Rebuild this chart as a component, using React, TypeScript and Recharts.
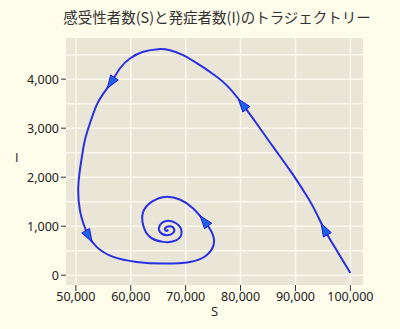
import React from 'react';
import { LineChart, Line, XAxis, YAxis, CartesianGrid } from 'recharts';

// trajectory, in travel order
const sValues = [
  100000, 97490, 95360, 93220, 91400, 88980, 85940, 82910, 80470, 77450,
  74410, 72590, 69540, 67120, 64990, 62260, 59840, 58010, 56500, 54970,
  53770, 52550, 51640, 51100, 50730, 50420, 50730, 51350, 52240, 53770,
  56800, 61050, 65900, 70770, 73810, 75140, 74720, 73500, 71370, 68940,
  66210, 63790, 62260, 62260, 63480, 65900, 68340, 69250, 68340, 66520,
  65300, 65300, 66520, 67730, 67850, 67120, 66210, 66520, 66810,
];
const iValues = [
  45, 510, 918, 1394, 1735, 2143, 2618, 3096, 3469, 3878,
  4149, 4286, 4490, 4592, 4612, 4558, 4422, 4218, 3945, 3700,
  3469, 3096, 2755, 2420, 2143, 1735, 1327, 1060, 816, 578,
  373, 271, 238, 271, 408, 647, 884, 1088, 1361, 1545,
  1598, 1496, 1292, 1020, 782, 680, 714, 884, 1055, 1108,
  1020, 884, 816, 864, 953, 1000, 953, 904, 932,
];
const arrowIdx = [2, 8, 18, 28, 37];

const xTicks = [50000, 60000, 70000, 80000, 90000, 100000];
const yTicks = [0, 1000, 2000, 3000, 4000];
const xGrid = [50000, 55000, 60000, 65000, 70000, 75000, 80000, 85000, 90000, 95000, 100000];
const yGrid = [0, 500, 1000, 1500, 2000, 2500, 3000, 3500, 4000, 4500];

const data = sValues.map((s, i) => ({ S: s, I: iValues[i], arrow: arrowIdx.includes(i) }));

const fmt = (v: number) => v.toLocaleString('en-US');

const ArrowDot = (props: any) => {
  const { cx, cy, index, points, payload } = props;
  if (!payload || !payload.arrow || !points) return <g key={`d-${index}`} />;
  const p0 = points[index - 1];
  const p1 = points[index + 1];
  const ang = Math.atan2(p1.y - p0.y, p1.x - p0.x);
  const L = 13;
  const W = 4.5;
  const c = Math.cos(ang);
  const s = Math.sin(ang);
  const tx = cx + c * L * 0.6;
  const ty = cy + s * L * 0.6;
  const bx = cx - c * L * 0.4;
  const by = cy - s * L * 0.4;
  const pts = `${tx},${ty} ${bx - s * W},${by + c * W} ${bx + s * W},${by - c * W}`;
  return (
    <polygon
      key={`d-${index}`}
      points={pts}
      fill="#1F62E8"
      stroke="#1A1ADB"
      strokeWidth={1}
      strokeLinejoin="round"
    />
  );
};

const tickStyle = { fill: '#222', fontSize: 12.5 };
const labelFont = '"Open Sans", sans-serif';

export default function App() {
  return (
    <div
      style={{
        position: 'relative',
        width: 400,
        height: 329,
        background: '#FEFCEB',
        fontFamily: '"Noto Sans", sans-serif',
      }}
    >
      <style>{'body{margin:0}'}</style>
      <div
        style={{
          position: 'absolute',
          top: 6,
          left: 17,
          width: 400,
          textAlign: 'center',
          fontSize: 14.5,
          color: '#333',
          fontFamily: '"Noto Sans CJK JP", sans-serif',
        }}
      >
        感受性者数(S)と発症者数(I)のトラジェクトリー
      </div>
      <LineChart width={400} height={329} data={data} margin={{ top: 38, right: 37, bottom: 0, left: 0 }}>
        <CartesianGrid
          fill="#E9E6D7"
          stroke="#FAF8EE"
          strokeWidth={1.5}
          verticalValues={xGrid}
          horizontalValues={yGrid}
        />
        <XAxis
          type="number"
          dataKey="S"
          domain={[48200, 102300]}
          allowDataOverflow
          ticks={xTicks}
          tickFormatter={fmt}
          axisLine={false}
          tickSize={6}
          tickMargin={1}
          tickLine={{ stroke: '#333' }}
          tick={tickStyle}
          height={44}
          label={{ value: 'S', position: 'insideBottom', offset: 13, fill: '#222', fontSize: 13, fontFamily: labelFont }}
        />
        <YAxis
          type="number"
          dataKey="I"
          domain={[-200, 4840]}
          allowDataOverflow
          ticks={yTicks}
          tickFormatter={fmt}
          axisLine={false}
          tickSize={5}
          tickMargin={2}
          tickLine={{ stroke: '#333' }}
          tick={tickStyle}
          width={66}
          label={{ value: 'I', position: 'insideLeft', offset: 15, dy: -4, fill: '#222', fontSize: 13, fontFamily: labelFont }}
        />
        <Line
          type="natural"
          dataKey="I"
          stroke="#2B2FE3"
          strokeWidth={2}
          dot={ArrowDot}
          activeDot={false}
          isAnimationActive={false}
        />
      </LineChart>
    </div>
  );
}
